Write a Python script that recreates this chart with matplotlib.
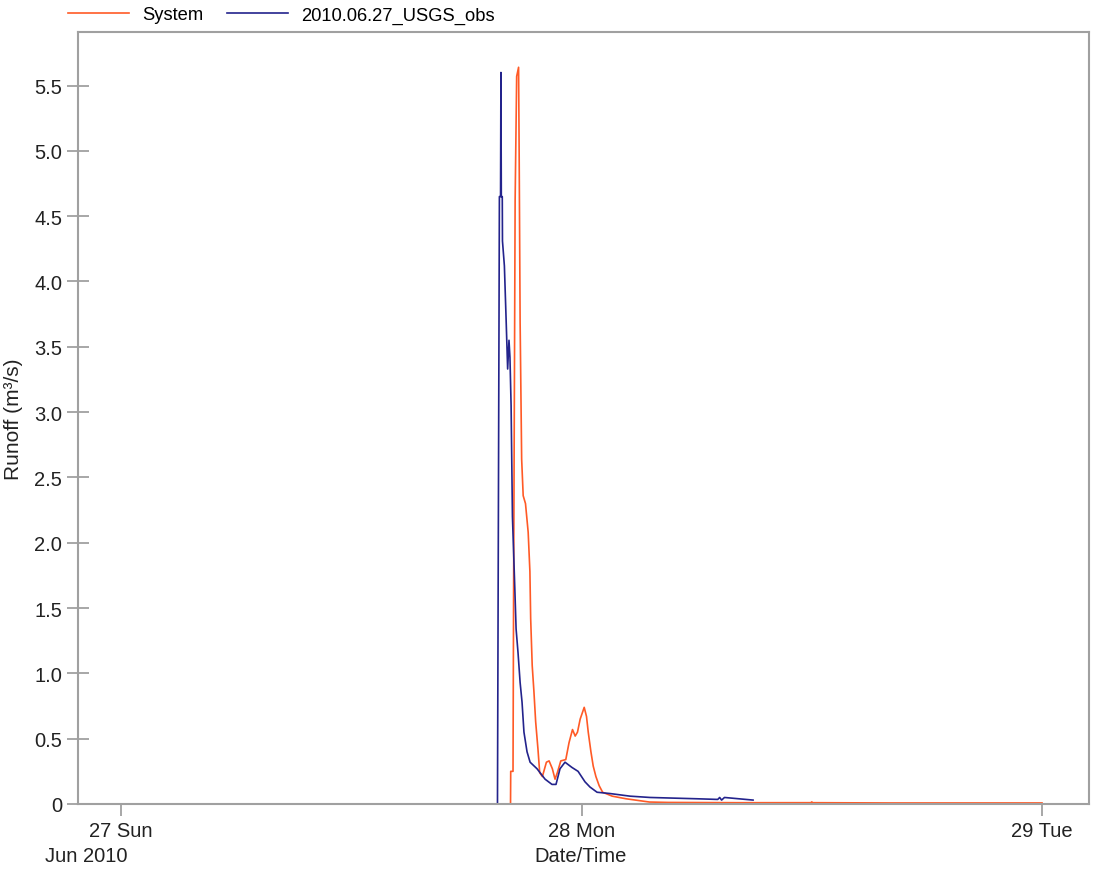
import matplotlib
matplotlib.use("Agg")
import matplotlib.pyplot as plt
import matplotlib.ticker as mticker
import pandas as pd

plt.rcParams['font.family'] = ['Liberation Sans', 'DejaVu Sans']

# ---- data (hours since 2010-06-27 00:00) ----
sys_hours = [20.17, 20.30, 20.31, 20.43, 20.46, 20.54, 20.62, 20.72, 20.75, 20.80,
             20.88, 20.96, 21.08, 21.22, 21.31, 21.35, 21.43, 21.52, 21.61, 21.73,
             21.82, 21.96, 22.17, 22.31, 22.48, 22.62, 22.74, 22.92, 23.18, 23.35,
             23.53, 23.67, 23.79, 23.93, 24.14, 24.26, 24.35, 24.49, 24.61, 24.75,
             24.92, 25.10, 25.60, 26.32, 27.54, 28.50, 32.00, 35.95, 36.00, 36.05,
             40.00, 48.00]
sys_flow = [0.0, 0.0, 0.25, 0.25, 1.62, 4.62, 5.57, 5.64, 4.98, 3.69,
            2.64, 2.36, 2.30, 2.08, 1.78, 1.42, 1.06, 0.86, 0.63, 0.42,
            0.24, 0.21, 0.32, 0.33, 0.27, 0.19, 0.24, 0.33, 0.34, 0.47,
            0.57, 0.52, 0.55, 0.65, 0.74, 0.67, 0.55, 0.40, 0.29, 0.21,
            0.14, 0.09, 0.06, 0.04, 0.015, 0.012, 0.010, 0.010, 0.016, 0.010,
            0.008, 0.008]

obs_hours = [19.02, 19.62, 19.66, 19.72, 19.78, 19.80, 19.82, 19.87, 19.88, 19.98,
             20.07, 20.15, 20.22, 20.27, 20.33, 20.40, 20.53, 20.59, 20.69, 20.80,
             20.90, 21.00, 21.16, 21.32, 21.68, 22.10, 22.46, 22.67, 22.88, 23.14,
             23.50, 23.82, 24.18, 24.44, 24.81, 25.49, 26.53, 27.57, 30.02, 31.10,
             31.20, 31.30, 31.45, 32.94]
obs_flow = [0.0, 0.0, 1.86, 4.65, 4.65, 5.60, 4.65, 4.65, 4.31, 4.12,
            3.71, 3.33, 3.55, 3.42, 3.05, 2.20, 1.62, 1.34, 1.16, 0.93,
            0.78, 0.55, 0.40, 0.32, 0.27, 0.19, 0.15, 0.15, 0.27, 0.32,
            0.28, 0.25, 0.17, 0.13, 0.09, 0.08, 0.06, 0.05, 0.04, 0.035,
            0.05, 0.03, 0.05, 0.03]

series_labels = ["System", "2010.06.27_USGS_obs"]
tick_labels = ["27 Sun", "28 Mon", "29 Tue"]
start = pd.Timestamp("2010-06-27 00:00")

sys_t = start + pd.to_timedelta(sys_hours, unit="h")
obs_t = start + pd.to_timedelta(obs_hours, unit="h")

RED = "#FF5A26"
BLUE = "#23238C"
GRAY = "#A0A0A0"

fig = plt.figure(figsize=(10.94, 8.78), dpi=100)
ax = fig.add_axes([78/1094, 73/878, (1089-78)/1094, (805-33)/878])

l1, = ax.plot(sys_t, sys_flow, color=RED, lw=1.2, label=series_labels[0])
l2, = ax.plot(obs_t, obs_flow, color=BLUE, lw=1.2, label=series_labels[1])

tick_pos = [start + pd.Timedelta(days=i) for i in range(3)]
ax.set_xlim(start - pd.Timedelta(days=0.0934), tick_pos[-1] + pd.Timedelta(days=0.102))
ax.set_xticks(tick_pos)
ax.set_xticklabels(tick_labels)
ax.set_ylim(0, 5.91)
ax.set_yticks([0, 0.5, 1.0, 1.5, 2.0, 2.5, 3.0, 3.5, 4.0, 4.5, 5.0, 5.5])
ax.yaxis.set_major_formatter(mticker.FuncFormatter(lambda v, p: "0" if v == 0 else f"{v:.1f}"))

for s in ax.spines.values():
    s.set_color(GRAY)
    s.set_linewidth(1.5)
ax.tick_params(axis='x', direction='out', length=8.5, width=1.3, color=GRAY,
               labelsize=14.5, pad=4, labelcolor="#222222")
ax.tick_params(axis='y', direction='inout', length=16.5, width=1.3, color=GRAY,
               labelsize=14.5, pad=3, labelcolor="#222222")

ax.set_ylabel("Runoff (m³/s)", fontsize=15, color="#222222")
ax.yaxis.set_label_coords(-55/1011, 0.5)
fig.text(86/1094, 1 - 857/878, "Jun 2010", fontsize=14.5, ha="center", va="center", color="#222222")
fig.text(581/1094, 1 - 857/878, "Date/Time", fontsize=14.5, ha="center", va="center", color="#222222")

fig.legend(handles=[l1, l2], loc="center left", bbox_to_anchor=(68/1094, 1 - 16/878),
           ncol=2, frameon=False, fontsize=13.2, handlelength=3.3, handletextpad=0.75,
           columnspacing=1.3, borderpad=0, borderaxespad=0)

fig.savefig("out.png", dpi=100)
